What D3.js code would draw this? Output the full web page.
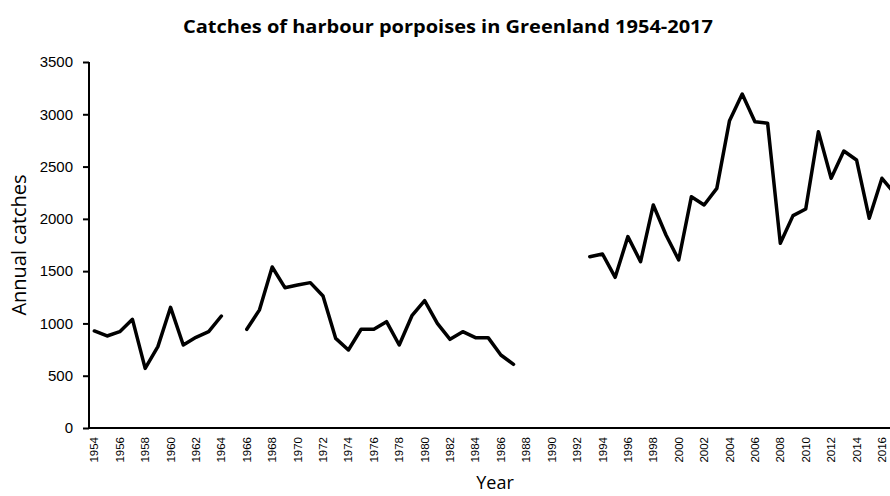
<!DOCTYPE html>
<html>
<head>
<meta charset="utf-8">
<script src="https://cdn.jsdelivr.net/npm/d3@7"></script>
<style>
  body { margin: 0; background: #fff; }
  svg { display: block; font-family: 'Open Sans', sans-serif; }
</style>
</head>
<body>
<div id="chart"></div>
<script>
// catches per year, null = no data
var years = d3.range(1954, 2018);
var catches = [
  928, 880, 921, 1039, 570, 778, 1154, 794, 867, 921, 1071,     // 1954-1964
  null,                                                          // 1965
  944, 1130, 1540, 1342, 1367, 1390, 1262, 857, 746, 944,       // 1966-1975
  944, 1017, 794, 1074, 1218, 1001, 848, 921, 864, 864,         // 1976-1985
  698, 609,                                                      // 1986-1987
  null, null, null, null, null,                                  // 1988-1992
  1638, 1664, 1441, 1830, 1591, 2133, 1846, 1607, 2212, 2133,   // 1993-2002
  2292, 2939, 3194, 2929, 2914, 1766, 2031, 2094, 2834, 2388,   // 2003-2012
  2649, 2563, 2005, 2388, 2240                                   // 2013-2017
];
var yTicks = [0, 500, 1000, 1500, 2000, 2500, 3000, 3500];
var xTickYears = years.filter(function (y) { return y % 2 === 0; });

var width = 890, height = 496,
  plot = {left: 88, right: 901, top: 62, bottom: 428};

var svg = d3.select('#chart').append('svg')
  .attr('width', width)
  .attr('height', height);

var x = d3.scaleBand()
  .domain(years)
  .range([plot.left, plot.right]);

var y = d3.scaleLinear()
  .domain([0, 3500])
  .range([plot.bottom, plot.top]);

// title
svg.append('text')
  .attr('x', 448)
  .attr('y', 33)
  .attr('text-anchor', 'middle')
  .attr('font-size', 18)
  .attr('font-weight', 'bold')
  .attr('textLength', 530)
  .attr('lengthAdjust', 'spacingAndGlyphs')
  .text('Catches of harbour porpoises in Greenland 1954-2017');

// y axis
var yAxis = svg.append('g')
  .attr('transform', 'translate(' + (plot.left + 1) + ',0)')
  .call(d3.axisLeft(y).tickValues(yTicks).tickFormat(d3.format('d'))
    .tickSize(6).tickPadding(10));
yAxis.select('.domain').attr('stroke-width', 2).attr('d', 'M0,' + plot.top + 'V' + (plot.bottom + 1));
yAxis.selectAll('.tick line').attr('stroke-width', 2);
yAxis.selectAll('.tick text').attr('font-size', 15).attr('fill', '#000');

// x axis
var xAxis = svg.append('g')
  .attr('transform', 'translate(0,' + plot.bottom + ')')
  .call(d3.axisBottom(x).tickValues(xTickYears).tickSize(0).tickPadding(0));
xAxis.select('.domain').attr('stroke-width', 2).attr('d', 'M' + (plot.left + 1) + ',0H' + plot.right);
xAxis.selectAll('.tick text')
  .attr('font-size', 11.5)
  .attr('fill', '#000')
  .attr('text-anchor', 'end')
  .attr('dy', '0.35em')
  .attr('transform', 'translate(0,9) rotate(-90)')
  .attr('x', 0)
  .attr('y', 0);

// axis titles
svg.append('text')
  .attr('transform', 'translate(26,245) rotate(-90)')
  .attr('text-anchor', 'middle')
  .attr('font-size', 20)
  .text('Annual catches');

svg.append('text')
  .attr('x', 495)
  .attr('y', 489)
  .attr('text-anchor', 'middle')
  .attr('font-size', 18)
  .text('Year');

// line
var line = d3.line()
  .defined(function (d) { return d.value !== null; })
  .x(function (d) { return x(d.year) + x.bandwidth() / 2; })
  .y(function (d) { return y(d.value); });

var data = years.map(function (yr, i) {
  return {year: yr, value: catches[i]};
});

svg.append('path')
  .datum(data)
  .attr('fill', 'none')
  .attr('stroke', '#000')
  .attr('stroke-width', 3.5)
  .attr('stroke-linejoin', 'round')
  .attr('stroke-linecap', 'round')
  .attr('d', line);
</script>
</body>
</html>
